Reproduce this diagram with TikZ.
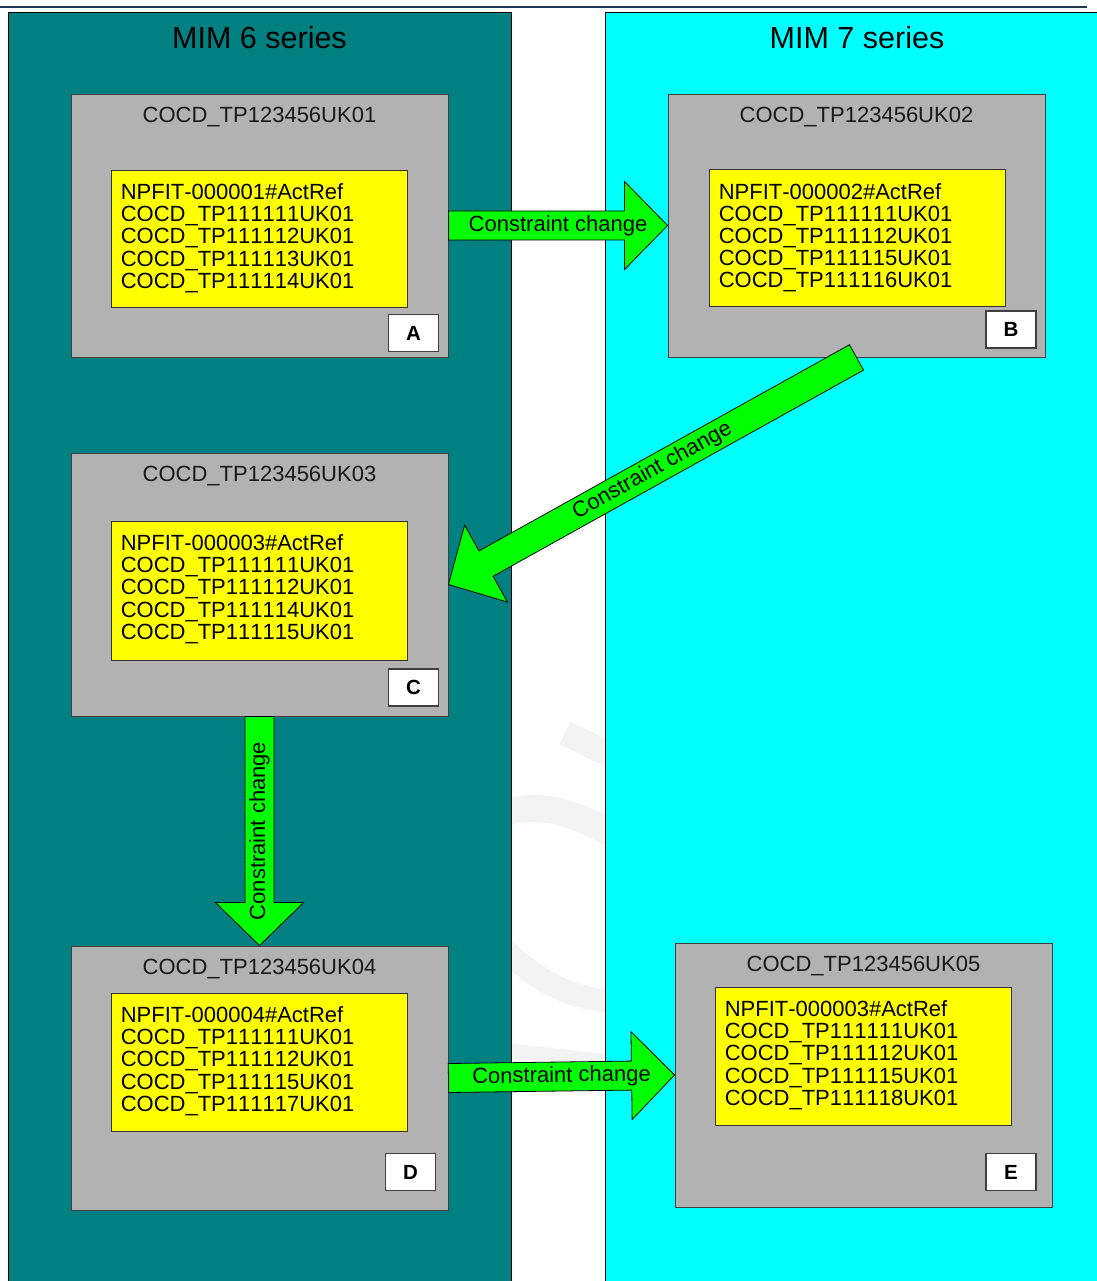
\documentclass[tikz,border=0pt]{standalone}
\usepackage{fontspec}
\setmainfont[Kerning=Off]{Liberation Sans}
\usetikzlibrary{calc}
\definecolor{teal6}{HTML}{008080}
\definecolor{cyan7}{HTML}{00FFFF}
\definecolor{greybox}{HTML}{B2B2B2}
\definecolor{yel}{HTML}{FFFF00}
\definecolor{grn}{HTML}{00FF00}
\definecolor{navyline}{HTML}{1F3552}
\definecolor{wm}{HTML}{F3F3F3}
\newcommand\blockarrow[3]{%
  \coordinate (#3h) at ($(#2)!43pt!(#1)$);
  \draw[cc] ($(#1)!14.5pt!90:(#2)$) -- ($(#3h)!14.5pt!90:(#2)$) -- ($(#3h)!44pt!90:(#2)$) -- (#2) -- ($(#3h)!44pt!-90:(#2)$) -- ($(#3h)!14.5pt!-90:(#2)$) -- ($(#1)!14.5pt!-90:(#2)$) -- cycle;}
\newcommand\lst[5]{\vtop{\hbox{#1}\hbox{#2}\hbox{#3}\hbox{#4}\hbox{#5}}}
\begin{document}
\begin{tikzpicture}[x=1pt,y=-1pt,
  panel/.style={draw=black, line width=0.9pt},
  greyb/.style={draw=black!75, fill=greybox, line width=0.9pt, minimum width=377pt, minimum height=263pt, inner sep=0pt},
  yelb/.style={draw=black!80, fill=yel, line width=0.9pt, minimum width=296pt, minimum height=137pt, inner sep=0pt},
  lbl/.style={draw=black!75, fill=white, line width=1.2pt, minimum width=50pt, minimum height=37pt, inner sep=0pt, font=\fontsize{20.5}{24}\selectfont\bfseries},
  title/.style={anchor=base, inner sep=0pt, font=\fontsize{22}{26}\selectfont, text=black!90},
  listtext/.style={anchor=base west, inner sep=0pt, font=\fontsize{22}{22.2}\selectfont},
  series/.style={anchor=base, inner sep=0pt, font=\fontsize{30.5}{36}\selectfont},
  cc/.style={draw=black, fill=grn, line width=0.8pt, line join=miter},
  cctext/.style={inner sep=0pt, font=\fontsize{22}{26}\selectfont},
  wmark/.style={draw=wm, line cap=butt}
]
\useasboundingbox (0,0) rectangle (1096,1281);
\fill[white] (0,0) rectangle (1096,1281);
% watermark (faint)
\draw[wmark, line width=25pt] (565,733) -- (625,762);
\draw[wmark, line width=27pt] (500,815) .. controls (535,800) and (575,812) .. (615,836);
\draw[wmark, line width=23pt] (505,950) .. controls (535,978) and (565,998) .. (615,1002);
\draw[wmark, line width=14pt] (505,1050) -- (615,1062);
% panels
\path[panel, fill=teal6] (8,12) rectangle (511,1295);
\path[panel, fill=cyan7] (605,12) rectangle (1110,1295);
\draw[navyline, line width=2.5pt] (0,7) -- (1087,7);
\node[series] (m6) at (259.5,49) {MIM 6 series};
\node[series] (m7) at (857,49) {MIM 7 series};
% grey boxes
\node[greyb] (A) at (259.5,225.5) {};
\node[greyb] (B) at (856.5,225.5) {};
\node[greyb] (C) at (259.5,584.5) {};
\node[greyb, minimum height=264pt] (D) at (259.5,1078) {};
\node[greyb, minimum height=264pt] (E) at (863.5,1075) {};
\node[title] (At) at ($(A.north)+(0,29)$) {COCD\_TP123456UK01};
\node[title] (Bt) at ($(B.north)+(0,29)$) {COCD\_TP123456UK02};
\node[title] (Ct) at ($(C.north)+(0,29)$) {COCD\_TP123456UK03};
\node[title] (Dt) at ($(D.north)+(0,29)$) {COCD\_TP123456UK04};
\node[title] (Et) at ($(E.north)+(0,29)$) {COCD\_TP123456UK05};
% yellow boxes
\node[yelb] (Ay) at (259,238.5) {};
\node[yelb] (By) at (857,238) {};
\node[yelb, minimum height=139pt] (Cy) at (259,590.5) {};
\node[yelb, minimum height=138pt] (Dy) at (259,1062) {};
\node[yelb, minimum height=138pt] (Ey) at (863,1056) {};
\node[listtext] (Al) at ($(Ay.north west)+(10,30)$) {\lst{NPFIT-000001\#ActRef}{COCD\_TP111111UK01}{COCD\_TP111112UK01}{COCD\_TP111113UK01}{COCD\_TP111114UK01}};
\node[listtext] (Bl) at ($(By.north west)+(10,30)$) {\lst{NPFIT-000002\#ActRef}{COCD\_TP111111UK01}{COCD\_TP111112UK01}{COCD\_TP111115UK01}{COCD\_TP111116UK01}};
\node[listtext] (Cl) at ($(Cy.north west)+(10,30)$) {\lst{NPFIT-000003\#ActRef}{COCD\_TP111111UK01}{COCD\_TP111112UK01}{COCD\_TP111114UK01}{COCD\_TP111115UK01}};
\node[listtext] (Dl) at ($(Dy.north west)+(10,30)$) {\lst{NPFIT-000004\#ActRef}{COCD\_TP111111UK01}{COCD\_TP111112UK01}{COCD\_TP111115UK01}{COCD\_TP111117UK01}};
\node[listtext] (El) at ($(Ey.north west)+(10,30)$) {\lst{NPFIT-000003\#ActRef}{COCD\_TP111111UK01}{COCD\_TP111112UK01}{COCD\_TP111115UK01}{COCD\_TP111118UK01}};
% letter labels
\node[lbl] (Ak) at (413.5,333) {A};
\node[lbl] (Bk) at (1011,329.5) {B};
\node[lbl] (Ck) at (413.5,687.5) {C};
\node[lbl] (Dk) at (410.5,1172) {D};
\node[lbl] (Ek) at (1011,1172) {E};
% block arrows
\blockarrow{A.east}{B.west}{ab}
\blockarrow{B.south}{C.east}{bc}
\blockarrow{C.south}{D.north}{cd}
\blockarrow{D.east}{E.west}{de}
\path (A.east) -- (B.west) node[cctext, midway, sloped] (t1) {Constraint change};
\path (B.south) -- (C.east) node[cctext, midway, sloped] (t2) {Constraint change};
\path (D.north) -- (C.south) node[cctext, midway, sloped] (t3) {Constraint change};
\path (D.east) -- (E.west) node[cctext, midway, sloped] (t4) {Constraint change};
\end{tikzpicture}
\end{document}
